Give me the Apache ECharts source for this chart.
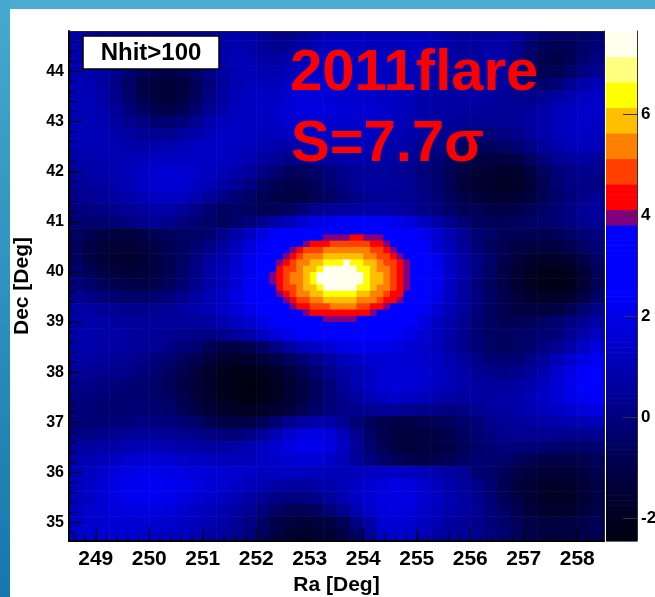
<!DOCTYPE html>
<html>
<head>
<meta charset="utf-8">
<script src="https://cdn.jsdelivr.net/npm/echarts@6/dist/echarts.min.js"></script>
<style>
  html, body { margin: 0; padding: 0; background: #ffffff; }
  #chart { width: 655px; height: 597px; }
</style>
</head>
<body>
<div id="chart"></div>
<script>
// ---- Significance map, 0.25 deg bins (Ra left->right, Dec top->bottom) ----
const raCoarse = [248.625, 248.875, 249.125, 249.375, 249.625, 249.875, 250.125, 250.375, 250.625, 250.875,
  251.125, 251.375, 251.625, 251.875, 252.125, 252.375, 252.625, 252.875, 253.125, 253.375,
  253.625, 253.875, 254.125, 254.375, 254.625, 254.875, 255.125, 255.375, 255.625, 255.875,
  256.125, 256.375, 256.625, 256.875, 257.125, 257.375, 257.625, 257.875, 258.125, 258.375];
const decCoarse = [44.75, 44.5, 44.25, 44.0, 43.75, 43.5, 43.25, 43.0, 42.75, 42.5, 42.25, 42.0, 41.75, 41.5,
  41.25, 41.0, 40.75, 40.5, 40.25, 40.0, 39.75, 39.5, 39.25, 39.0, 38.75, 38.5, 38.25, 38.0, 37.75, 37.5,
  37.25, 37.0, 36.75, 36.5, 36.25, 36.0, 35.75, 35.5, 35.25, 35.0, 34.75];
const sigCoarse = [
  [0.7,0.6,0.5,0.5,0.4,0.3,0.3,0.3,0.4,0.5,0.6,0.7,0.8,0.7,0.4,0.1,0.1,0.4,0.8,1.0,1.1,1.1,1.1,1.0,1.0,1.1,1.1,0.9,0.7,0.5,0.5,0.6,0.7,0.5,0.0,-0.3,-0.5,-0.5,-0.4,-0.3],
  [0.7,0.6,0.5,0.4,0.3,0.2,0.1,0.1,0.2,0.4,0.5,0.7,0.9,0.8,0.5,0.3,0.4,0.7,1.0,1.2,1.3,1.2,1.1,1.1,1.1,1.2,1.2,1.0,0.7,0.5,0.6,0.7,0.7,0.3,-0.3,-0.7,-0.8,-0.7,-0.4,-0.2],
  [0.8,0.7,0.5,0.3,0.1,-0.1,-0.3,-0.3,-0.1,0.2,0.5,0.8,1.0,0.9,0.7,0.6,0.8,1.0,1.2,1.3,1.4,1.3,1.2,1.2,1.2,1.2,1.1,0.9,0.6,0.5,0.6,0.8,0.7,0.2,-0.5,-0.9,-1.0,-0.8,-0.3,0.0],
  [0.9,0.8,0.6,0.2,-0.3,-0.7,-0.9,-1.0,-0.8,-0.4,0.1,0.6,0.9,1.0,0.9,0.9,1.1,1.3,1.4,1.4,1.4,1.3,1.2,1.2,1.1,1.1,1.0,0.8,0.6,0.5,0.6,0.7,0.6,0.1,-0.5,-0.8,-0.8,-0.5,0.0,0.3],
  [1.0,0.9,0.6,0.1,-0.5,-1.0,-1.3,-1.4,-1.2,-0.7,-0.1,0.5,0.9,1.1,1.1,1.1,1.3,1.5,1.6,1.5,1.4,1.3,1.2,1.2,1.1,1.0,0.9,0.7,0.6,0.6,0.7,0.7,0.5,0.2,-0.2,-0.4,-0.2,0.3,0.8,1.0],
  [1.0,1.0,0.7,0.2,-0.4,-1.0,-1.3,-1.4,-1.2,-0.7,0.0,0.6,1.0,1.2,1.2,1.3,1.5,1.7,1.7,1.6,1.5,1.4,1.4,1.3,1.2,1.0,0.8,0.7,0.6,0.7,0.7,0.6,0.4,0.3,0.2,0.3,0.6,0.9,1.2,1.3],
  [1.0,1.0,0.8,0.4,-0.1,-0.6,-0.9,-1.0,-0.8,-0.3,0.3,0.8,1.1,1.2,1.3,1.4,1.6,1.8,1.8,1.7,1.6,1.5,1.5,1.4,1.2,1.0,0.8,0.7,0.6,0.6,0.6,0.5,0.4,0.4,0.5,0.7,1.0,1.2,1.4,1.4],
  [1.0,1.0,0.9,0.6,0.3,0.0,-0.3,-0.3,-0.1,0.3,0.8,1.1,1.2,1.2,1.2,1.3,1.5,1.6,1.6,1.5,1.5,1.4,1.4,1.3,1.1,0.9,0.7,0.6,0.5,0.4,0.3,0.3,0.3,0.4,0.6,0.8,1.1,1.3,1.4,1.3],
  [1.0,1.0,1.0,0.8,0.6,0.4,0.3,0.3,0.5,0.8,1.1,1.3,1.3,1.2,1.1,1.1,1.2,1.3,1.3,1.3,1.3,1.3,1.2,1.1,1.0,0.8,0.6,0.4,0.2,0.0,-0.1,-0.1,0.0,0.2,0.5,0.8,1.0,1.2,1.3,1.2],
  [1.0,1.0,1.0,0.9,0.8,0.8,0.8,0.9,1.0,1.2,1.3,1.3,1.2,1.1,0.9,0.8,0.8,0.9,1.0,1.1,1.1,1.1,1.0,0.9,0.8,0.6,0.3,0.1,-0.2,-0.5,-0.6,-0.6,-0.5,-0.3,0.1,0.5,0.8,1.0,1.1,1.1],
  [0.8,0.8,0.9,0.9,1.0,1.1,1.2,1.3,1.3,1.3,1.3,1.2,1.1,0.9,0.6,0.3,0.1,0.2,0.4,0.6,0.7,0.8,0.8,0.7,0.6,0.4,0.1,-0.2,-0.6,-0.9,-1.1,-1.2,-1.2,-1.0,-0.6,-0.1,0.3,0.5,0.6,0.5],
  [0.6,0.7,0.8,0.9,1.1,1.3,1.5,1.6,1.5,1.4,1.2,1.0,0.8,0.5,0.1,-0.3,-0.6,-0.6,-0.4,-0.1,0.2,0.4,0.5,0.5,0.4,0.2,-0.1,-0.4,-0.8,-1.2,-1.5,-1.6,-1.7,-1.6,-1.2,-0.6,-0.2,0.1,0.2,0.2],
  [0.4,0.5,0.6,0.8,1.0,1.3,1.5,1.6,1.5,1.3,1.0,0.7,0.4,0.0,-0.5,-0.8,-1.0,-0.9,-0.6,-0.3,0.1,0.4,0.6,0.6,0.5,0.3,0.0,-0.3,-0.8,-1.3,-1.6,-1.8,-1.9,-1.8,-1.4,-0.8,-0.3,0.0,0.1,0.1],
  [0.2,0.3,0.4,0.6,0.8,1.0,1.2,1.3,1.2,0.9,0.5,0.1,-0.2,-0.5,-0.8,-1.0,-1.1,-1.0,-0.8,-0.5,-0.2,0.1,0.3,0.4,0.4,0.3,0.1,-0.2,-0.6,-1.0,-1.3,-1.5,-1.6,-1.5,-1.2,-0.8,-0.4,-0.1,0.2,0.4],
  [0.0,0.0,0.1,0.2,0.4,0.6,0.7,0.7,0.5,0.1,-0.3,-0.6,-0.5,-0.6,-0.8,-0.8,-0.6,-0.2,0.2,0.4,0.5,0.6,0.7,0.7,0.6,0.4,0.1,-0.1,-0.4,-0.7,-0.8,-1.0,-1.1,-1.0,-0.8,-0.5,-0.2,0.1,0.4,0.6],
  [-0.2,-0.3,-0.3,-0.2,0.0,0.2,0.3,0.2,0.0,-0.3,-0.5,-0.6,-0.4,-0.1,0.3,0.7,1.1,1.6,1.9,2.1,2.2,2.3,2.3,2.2,2.0,1.7,1.3,0.8,0.2,-0.3,-0.6,-0.7,-0.7,-0.6,-0.5,-0.4,-0.2,0.0,0.3,0.5],
  [-0.5,-0.8,-1.0,-1.2,-1.2,-1.0,-0.8,-0.6,-0.5,-0.5,-0.3,0.2,0.8,1.3,1.8,2.4,2.8,3.1,3.4,3.5,3.6,3.7,3.6,3.3,2.8,2.4,2.1,1.5,0.9,0.3,-0.2,-0.5,-0.7,-0.8,-0.8,-0.8,-0.7,-0.5,-0.2,0.0],
  [-0.6,-1.0,-1.3,-1.5,-1.5,-1.3,-1.0,-0.8,-0.6,-0.3,0.1,0.6,1.1,1.7,2.3,3.2,3.7,4.4,5.1,5.5,5.6,5.4,5.0,4.3,3.6,3.2,2.3,1.6,1.0,0.4,-0.2,-0.6,-0.9,-1.1,-1.2,-1.3,-1.2,-0.9,-0.5,-0.2],
  [-0.5,-1.0,-1.4,-1.6,-1.6,-1.4,-1.1,-0.8,-0.5,0.0,0.6,0.9,1.4,2.0,2.7,3.7,4.6,5.6,6.3,6.7,6.8,6.6,6.2,5.5,4.5,3.6,2.8,2.1,1.3,0.7,0.1,-0.4,-0.9,-1.3,-1.6,-1.8,-1.8,-1.5,-1.0,-0.5],
  [-0.3,-0.7,-1.1,-1.3,-1.4,-1.3,-1.1,-0.8,-0.4,0.1,0.7,1.0,1.5,2.1,2.9,4.1,5.3,6.2,6.9,7.4,7.5,7.3,6.8,6.1,5.1,3.9,3.0,2.2,1.4,0.7,0.0,-0.5,-1.0,-1.5,-1.9,-2.1,-2.2,-2.0,-1.4,-0.7],
  [-0.1,-0.4,-0.7,-0.9,-1.0,-1.0,-0.9,-0.6,-0.3,0.2,0.8,1.1,1.6,2.2,2.9,4.1,5.2,6.2,6.8,7.3,7.5,7.2,6.7,6.0,5.1,3.9,2.9,2.1,1.3,0.6,-0.1,-0.6,-1.1,-1.6,-2.0,-2.2,-2.3,-2.1,-1.5,-0.8],
  [0.3,0.1,-0.1,-0.3,-0.4,-0.4,-0.3,-0.1,0.2,0.6,1.0,1.3,1.8,2.3,2.9,3.6,4.5,5.4,6.1,6.5,6.6,6.4,6.0,5.3,4.3,3.5,2.7,2.0,1.2,0.6,0.0,-0.5,-0.9,-1.3,-1.6,-1.8,-1.8,-1.6,-1.0,-0.4],
  [0.7,0.6,0.4,0.3,0.2,0.2,0.3,0.4,0.6,0.8,0.9,1.3,1.6,2.0,2.4,3.1,3.6,4.2,4.8,5.2,5.3,5.1,4.6,4.1,3.5,3.1,2.2,1.6,1.0,0.5,-0.1,-0.6,-0.9,-1.1,-1.2,-1.2,-1.1,-0.8,-0.3,0.2],
  [0.8,0.8,0.7,0.6,0.5,0.5,0.5,0.5,0.5,0.5,0.6,0.9,1.2,1.5,1.9,2.3,2.7,3.0,3.2,3.3,3.3,3.2,3.0,2.8,2.5,2.2,1.8,1.3,0.8,0.3,-0.2,-0.6,-0.8,-0.8,-0.7,-0.5,-0.3,0.0,0.4,0.7],
  [0.8,0.8,0.8,0.7,0.6,0.5,0.4,0.3,0.2,0.1,0.1,0.2,0.5,0.8,1.3,1.7,2.0,2.3,2.5,2.6,2.7,2.7,2.6,2.5,2.2,1.9,1.6,1.2,0.7,0.2,-0.2,-0.5,-0.6,-0.5,-0.4,-0.3,-0.1,0.3,0.8,1.2],
  [0.8,0.8,0.7,0.6,0.5,0.4,0.3,0.1,-0.1,-0.3,-0.8,-1.0,-1.1,-0.9,-0.5,0.0,0.6,1.1,1.3,1.6,1.9,2.1,2.1,2.0,1.8,1.6,1.4,1.1,0.6,0.2,-0.2,-0.5,-0.6,-0.5,-0.3,0.0,0.3,0.8,1.3,1.7],
  [0.7,0.6,0.5,0.4,0.3,0.1,-0.1,-0.3,-0.6,-0.9,-1.3,-1.6,-1.8,-1.7,-1.4,-1.0,-0.6,-0.2,0.2,0.6,1.0,1.3,1.5,1.6,1.6,1.5,1.4,1.2,0.9,0.5,0.1,-0.2,-0.3,-0.2,0.1,0.5,1.0,1.5,1.9,2.2],
  [0.5,0.4,0.3,0.2,0.1,-0.1,-0.3,-0.6,-0.9,-1.3,-1.7,-2.0,-2.2,-2.2,-2.0,-1.7,-1.3,-0.8,-0.3,0.2,0.7,1.0,1.3,1.5,1.6,1.6,1.5,1.3,1.0,0.7,0.4,0.2,0.1,0.2,0.5,0.9,1.4,1.9,2.3,2.6],
  [0.2,0.1,0.0,-0.1,-0.2,-0.3,-0.5,-0.7,-1.0,-1.4,-1.8,-2.1,-2.3,-2.4,-2.3,-2.0,-1.6,-1.1,-0.6,-0.1,0.4,0.9,1.3,1.6,1.7,1.6,1.4,1.2,1.0,0.8,0.6,0.5,0.5,0.6,0.8,1.2,1.6,2.0,2.4,2.7],
  [0.0,-0.1,-0.2,-0.3,-0.3,-0.3,-0.4,-0.6,-0.9,-1.3,-1.7,-2.0,-2.2,-2.3,-2.2,-1.9,-1.5,-1.1,-0.6,-0.2,0.2,0.6,1.0,1.3,1.4,1.3,1.1,0.9,0.7,0.6,0.6,0.6,0.7,0.8,1.0,1.3,1.6,1.9,2.2,2.4],
  [-0.1,-0.2,-0.3,-0.3,-0.3,-0.2,-0.3,-0.4,-0.7,-1.0,-1.4,-1.7,-1.9,-1.9,-1.8,-1.5,-1.2,-0.8,-0.4,-0.1,0.1,0.2,0.3,0.4,0.4,0.3,0.2,0.1,0.0,0.1,0.3,0.5,0.6,0.7,0.9,1.1,1.3,1.5,1.7,1.8],
  [-0.1,-0.2,-0.2,-0.2,-0.1,0.0,0.0,-0.1,-0.3,-0.5,-0.8,-1.0,-1.1,-1.0,-0.7,-0.3,0.2,0.6,0.8,0.7,0.3,-0.2,-0.6,-0.9,-1.0,-1.0,-0.9,-0.8,-0.6,-0.4,-0.1,0.2,0.4,0.5,0.6,0.7,0.8,0.9,1.0,1.1],
  [0.1,0.1,0.2,0.3,0.4,0.5,0.5,0.4,0.3,0.2,0.0,-0.1,-0.1,0.1,0.5,1.0,1.5,1.8,1.9,1.7,1.1,0.3,-0.4,-0.9,-1.2,-1.3,-1.2,-1.1,-0.9,-0.6,-0.3,0.0,0.2,0.3,0.3,0.3,0.2,0.2,0.2,0.3],
  [0.5,0.6,0.7,0.8,0.9,1.0,1.0,0.9,0.8,0.7,0.6,0.6,0.7,0.9,1.2,1.5,1.8,2.0,2.0,1.8,1.2,0.4,-0.3,-0.8,-1.1,-1.3,-1.3,-1.2,-1.0,-0.7,-0.4,-0.2,-0.1,-0.1,-0.2,-0.3,-0.4,-0.4,-0.4,-0.3],
  [0.8,0.9,1.1,1.3,1.5,1.6,1.6,1.5,1.4,1.3,1.2,1.1,1.1,1.1,1.2,1.4,1.5,1.6,1.6,1.4,1.0,0.5,0.0,-0.4,-0.7,-0.9,-1.0,-0.9,-0.7,-0.5,-0.3,-0.3,-0.4,-0.6,-0.8,-1.0,-1.1,-1.0,-0.9,-0.7],
  [1.0,1.2,1.4,1.7,1.9,2.0,2.0,1.9,1.8,1.7,1.6,1.5,1.4,1.3,1.2,1.2,1.2,1.2,1.1,1.0,1.0,1.1,1.2,1.3,1.3,1.2,1.0,0.8,0.6,0.4,-0.2,-0.4,-0.7,-1.0,-1.2,-1.4,-1.5,-1.4,-1.2,-0.9],
  [1.1,1.3,1.6,1.9,2.1,2.2,2.2,2.1,2.0,1.8,1.6,1.5,1.3,1.1,0.9,0.7,0.6,0.6,0.7,0.8,1.0,1.3,1.5,1.7,1.8,1.7,1.4,1.1,0.8,0.5,0.1,-0.3,-0.8,-1.2,-1.5,-1.7,-1.8,-1.7,-1.4,-1.0],
  [1.1,1.3,1.6,1.8,2.0,2.1,2.1,2.0,1.8,1.6,1.4,1.2,1.0,0.7,0.4,0.1,0.0,0.0,0.2,0.5,0.9,1.3,1.6,1.8,1.9,1.8,1.5,1.2,0.9,0.6,0.2,-0.2,-0.7,-1.1,-1.5,-1.8,-1.9,-1.8,-1.5,-1.1],
  [1.2,1.4,1.6,1.7,1.8,1.8,1.8,1.7,1.5,1.3,1.1,0.9,0.6,0.3,-0.1,-0.5,-0.7,-0.8,-0.6,-0.2,0.3,0.9,1.4,1.7,1.8,1.7,1.4,1.1,0.8,0.6,0.3,-0.1,-0.5,-0.9,-1.3,-1.6,-1.7,-1.6,-1.3,-1.0],
  [1.3,1.4,1.5,1.6,1.6,1.6,1.5,1.4,1.3,1.1,0.9,0.7,0.4,0.0,-0.5,-1.0,-1.3,-1.4,-1.3,-1.2,-0.7,0.0,0.8,1.5,1.6,1.5,1.2,0.9,0.6,0.4,0.2,-0.1,-0.4,-0.7,-1.0,-1.2,-1.3,-1.2,-1.0,-0.8],
  [1.4,1.5,1.6,1.6,1.6,1.5,1.4,1.3,1.2,1.0,0.8,0.6,0.3,-0.1,-0.6,-1.1,-1.5,-1.6,-1.5,-1.4,-1.0,-0.4,0.5,1.3,1.5,1.4,1.1,0.8,0.5,0.4,0.3,0.0,-0.3,-0.6,-0.9,-1.1,-1.2,-1.1,-0.9,-0.8]
];

// ---- Source region, 0.125 deg bins ----
const raFine = [252.3125, 252.4375, 252.5625, 252.6875, 252.8125, 252.9375, 253.0625, 253.1875, 253.3125, 253.4375, 253.5625,
  253.6875, 253.8125, 253.9375, 254.0625, 254.1875, 254.3125, 254.4375, 254.5625, 254.6875, 254.8125, 254.9375];
const decFine = [40.8125, 40.6875, 40.5625, 40.4375, 40.3125, 40.1875, 40.0625, 39.9375, 39.8125, 39.6875, 39.5625,
  39.4375, 39.3125, 39.1875, 39.0625, 38.9375];
const sigFine = [
  [2.35,2.53,2.69,2.83,2.97,3.10,3.21,3.30,3.36,3.40,3.41,3.40,3.78,3.70,3.60,3.46,3.34,3.19,3.03,2.86,2.70,2.53],
  [2.65,2.82,3.02,3.19,3.35,3.51,3.66,3.79,3.88,3.94,3.96,3.94,4.38,4.24,4.07,4.00,3.85,3.53,3.34,3.15,2.96,2.76],
  [2.92,3.14,3.35,3.57,3.79,4.01,4.24,4.46,4.59,4.67,4.69,4.67,4.99,4.85,4.69,4.49,4.18,3.92,3.67,3.43,3.22,2.99],
  [3.19,3.42,3.71,3.99,4.32,4.63,4.88,5.10,5.24,5.32,5.35,5.33,5.51,5.39,5.21,4.98,4.70,4.39,4.02,3.73,3.45,3.21],
  [3.41,3.72,4.06,4.49,4.81,5.15,5.40,5.60,5.73,5.82,5.85,5.83,5.92,5.78,5.61,5.39,5.12,4.77,4.42,4.01,3.69,3.40],
  [3.63,3.98,4.44,4.84,5.22,5.53,5.78,6.02,6.23,6.38,6.44,7.20,6.40,6.19,5.93,5.69,5.42,5.10,4.71,4.30,3.89,3.56],
  [3.79,4.19,4.68,5.12,5.46,5.77,6.09,6.42,7.20,7.30,7.35,7.30,7.20,6.55,6.23,5.89,5.62,5.30,4.91,4.51,4.03,3.68],
  [3.87,4.32,4.79,5.24,5.60,5.90,6.29,7.20,7.30,7.50,7.60,7.53,7.30,7.20,6.40,6.03,5.72,5.39,5.02,4.60,4.11,3.74],
  [3.87,4.32,4.79,5.23,5.59,5.90,6.28,7.20,7.25,7.46,7.57,7.50,7.25,7.20,6.39,6.02,5.71,5.39,5.01,4.59,4.10,3.74],
  [3.78,4.16,4.66,5.10,5.44,5.75,6.06,6.39,7.20,7.30,7.30,7.25,7.20,6.45,6.15,5.84,5.58,5.25,4.85,4.46,4.00,3.66],
  [3.60,3.95,4.39,4.79,5.18,5.48,5.73,5.95,6.16,6.30,6.35,6.31,6.19,6.00,5.81,5.58,5.30,4.97,4.60,4.14,3.81,3.49],
  [3.38,3.68,4.00,4.40,4.74,5.08,5.33,5.52,5.66,5.74,5.77,5.75,5.68,5.56,5.38,5.16,4.86,4.56,4.15,3.84,3.55,3.29],
  [3.14,3.37,3.64,3.91,4.20,4.54,4.76,4.99,5.13,5.21,5.24,5.21,5.15,5.03,4.82,4.61,4.33,4.02,3.76,3.51,3.28,3.05],
  [2.86,3.07,3.28,3.48,3.70,3.90,4.21,4.43,4.45,4.55,4.57,4.54,4.47,4.32,4.13,3.96,3.77,3.58,3.37,3.18,2.99,2.79],
  [2.59,2.76,2.94,3.11,3.27,3.41,3.55,3.67,3.85,3.90,3.92,3.90,3.85,3.69,3.59,3.45,3.32,3.18,3.02,2.85,2.70,2.52],
  [2.26,2.45,2.61,2.75,2.87,2.99,3.10,3.18,3.25,3.29,3.30,3.29,3.26,3.20,3.13,3.03,2.92,2.80,2.67,2.53,2.37,2.20]
];

// ---- Axis labels ----
const raTicks = [249, 250, 251, 252, 253, 254, 255, 256, 257, 258];
const decTicks = [35, 36, 37, 38, 39, 40, 41, 42, 43, 44];
const zTicks = [-2, 0, 2, 4, 6];

// ---- Axis ranges ----
const raMin = 248.5, raMax = 258.5, decMin = 34.63, decMax = 44.81;

// ---- Colour scale (100 contour levels) ----
const zMin = -2.46, zMax = 7.66, nLevels = 100;
const zStep = (zMax - zMin) / nLevels;
const blueStops = [[-2.46, 14], [-2, 32], [-1, 72], [0, 128], [1, 180], [2, 232], [2.5, 255]];
const bandColors = [[95, '#fffff0'], [90, '#ffff80'], [85, '#ffff00'], [80, '#ffbf00'],
  [75, '#ff8000'], [70, '#ff4000'], [65, '#ff0000'], [62, '#800080']];

function blueAt(v) {
  if (v <= blueStops[0][0]) return blueStops[0][1];
  for (let i = 1; i < blueStops.length; i++) {
    const a = blueStops[i - 1], b = blueStops[i];
    if (v <= b[0]) return a[1] + (b[1] - a[1]) * (v - a[0]) / (b[0] - a[0]);
  }
  return 255;
}
const levelColors = [];
for (let i = 0; i < nLevels; i++) {
  const band = bandColors.find(b => i >= b[0]);
  levelColors.push(band ? band[1] : 'rgb(0,0,' + Math.round(blueAt(zMin + (i + 0.5) * zStep)) + ')');
}
function colorOf(v) {
  let i = Math.floor((v - zMin) / zStep);
  i = Math.max(0, Math.min(nLevels - 1, i));
  return levelColors[i];
}

// ---- Build series data ----
const coarseCells = [];
decCoarse.forEach((dec, r) => raCoarse.forEach((ra, c) => coarseCells.push([ra, dec, sigCoarse[r][c]])));
const fineCells = [];
decFine.forEach((dec, r) => raFine.forEach((ra, c) => fineCells.push([ra, dec, sigFine[r][c]])));
const scaleLevels = [];
for (let i = 0; i < nLevels; i++) scaleLevels.push([0.5, zMin + i * zStep, zMin + (i + 1) * zStep, i]);

// minor tick positions every 0.2 deg
function minorValues(lo, hi, step) {
  const out = [];
  for (let v = lo; v <= hi + 1e-9; v += step) out.push(Math.round(v * 10) / 10);
  return out;
}
const raMinorTicks = minorValues(248.6, 258.4, 0.2).map(v => [v, decMin]);
const decMinorTicks = minorValues(34.8, 44.8, 0.2).map(v => [raMin, v]);

function cellItem(half) {
  return function (params, api) {
    const ra = api.value(0), dec = api.value(1);
    const a = api.coord([ra - half, dec + half]);
    const b = api.coord([ra + half, dec - half]);
    const cs = params.coordSys;
    const shape = echarts.graphic.clipRectByRect(
      { x: a[0], y: a[1], width: b[0] - a[0] + 0.6, height: b[1] - a[1] + 0.6 },
      { x: cs.x, y: cs.y, width: cs.width, height: cs.height });
    if (!shape) return null;
    return { type: 'rect', shape: shape, style: { fill: colorOf(api.value(2)) } };
  };
}
function minorTickItem(dx, dy) {
  return function (params, api) {
    const p = api.coord([api.value(0), api.value(1)]);
    return { type: 'line', shape: { x1: p[0], y1: p[1], x2: p[0] + dx, y2: p[1] + dy },
      style: { stroke: '#000000', lineWidth: 1 } };
  };
}

const FONT = '"Liberation Sans", Arial, Helvetica, sans-serif';
const black = '#000000';

const chart = echarts.init(document.getElementById('chart'), null, { renderer: 'canvas' });
chart.setOption({
  animation: false,
  backgroundColor: '#ffffff',
  grid: [
    { left: 69, top: 31, width: 535, height: 510, containLabel: false, outerBoundsMode: 'none' },
    { left: 606, top: 31, width: 31, height: 510, containLabel: false, outerBoundsMode: 'none' }
  ],
  xAxis: [
    { gridIndex: 0, type: 'value', min: raMin, max: raMax, position: 'bottom', z: 10,
      axisLine: { show: true, onZero: false, lineStyle: { color: black, width: 2 } },
      axisTick: { show: true, inside: true, length: 14, customValues: raTicks, lineStyle: { color: black, width: 1 } },
      axisLabel: { show: true, customValues: raTicks, margin: 8, color: black, fontFamily: FONT, fontWeight: 'bold', fontSize: 21 },
      splitLine: { show: false },
      name: 'Ra [Deg]', nameLocation: 'middle', nameGap: 32,
      nameTextStyle: { color: black, fontFamily: FONT, fontWeight: 'bold', fontSize: 21 } },
    { gridIndex: 0, type: 'value', min: raMin, max: raMax, position: 'top', z: 10,
      axisLine: { show: true, onZero: false, lineStyle: { color: '#222', width: 1 } },
      axisTick: { show: false }, axisLabel: { show: false }, splitLine: { show: false } },
    { gridIndex: 1, type: 'value', min: 0, max: 1, show: false }
  ],
  yAxis: [
    { gridIndex: 0, type: 'value', min: decMin, max: decMax, position: 'left', z: 10,
      axisLine: { show: true, onZero: false, lineStyle: { color: black, width: 2 } },
      axisTick: { show: true, inside: true, length: 14, customValues: decTicks, lineStyle: { color: black, width: 1 } },
      axisLabel: { show: true, customValues: decTicks, margin: 5, color: black, fontFamily: FONT, fontWeight: 'bold', fontSize: 16 },
      splitLine: { show: false },
      name: 'Dec [Deg]', nameLocation: 'middle', nameRotate: 90, nameGap: 36,
      nameTextStyle: { color: black, fontFamily: FONT, fontWeight: 'bold', fontSize: 21 } },
    { gridIndex: 0, type: 'value', min: decMin, max: decMax, position: 'right', z: 10,
      axisLine: { show: true, onZero: false, lineStyle: { color: '#222', width: 1 } },
      axisTick: { show: false }, axisLabel: { show: false }, splitLine: { show: false } },
    { gridIndex: 1, type: 'value', min: zMin, max: zMax, position: 'right', z: 10,
      axisLine: { show: true, onZero: false, lineStyle: { color: '#333', width: 1 } },
      axisTick: { show: true, inside: true, length: 14, customValues: zTicks, lineStyle: { color: '#333', width: 1 } },
      axisLabel: { show: true, customValues: zTicks, margin: 4, color: black, fontFamily: FONT, fontWeight: 'bold', fontSize: 17 },
      splitLine: { show: false } }
  ],
  series: [
    { type: 'custom', name: 'significance', xAxisIndex: 0, yAxisIndex: 0, silent: true, z: 2, progressive: 0,
      data: coarseCells, renderItem: cellItem(0.125) },
    { type: 'custom', name: 'significance-core', xAxisIndex: 0, yAxisIndex: 0, silent: true, z: 3, progressive: 0,
      data: fineCells, renderItem: cellItem(0.0625) },
    { type: 'custom', name: 'ra-minor-ticks', xAxisIndex: 0, yAxisIndex: 0, silent: true, z: 5, progressive: 0,
      data: raMinorTicks, renderItem: minorTickItem(0, -7) },
    { type: 'custom', name: 'dec-minor-ticks', xAxisIndex: 0, yAxisIndex: 0, silent: true, z: 5, progressive: 0,
      data: decMinorTicks, renderItem: minorTickItem(7, 0) },
    { type: 'custom', name: 'scale', xAxisIndex: 2, yAxisIndex: 2, silent: true, z: 2, progressive: 0,
      data: scaleLevels,
      renderItem: function (params, api) {
        const a = api.coord([0, api.value(2)]);
        const b = api.coord([1, api.value(1)]);
        return { type: 'rect', shape: { x: a[0], y: a[1], width: b[0] - a[0], height: b[1] - a[1] + 0.6 },
          style: { fill: levelColors[api.value(3)] } };
      } }
  ],
  graphic: [
    { type: 'rect', z: 1, silent: true, shape: { x: 0, y: 0, width: 655, height: 9 }, style: { fill: '#49acd0' } },
    { type: 'rect', z: 1, silent: true, shape: { x: 0, y: 0, width: 10, height: 597 },
      style: { fill: new echarts.graphic.LinearGradient(0, 0, 0, 1, [
        { offset: 0, color: '#45a9cf' }, { offset: 1, color: '#1677ad' }]) } },
    { type: 'rect', z: 100, silent: true, shape: { x: 83, y: 36, width: 136, height: 33 },
      style: { fill: '#ffffff', stroke: '#000000', lineWidth: 1.5 } },
    { type: 'text', z: 101, silent: true, x: 151, y: 53,
      style: { text: 'Nhit>100', fill: '#000000', font: 'bold 24px ' + FONT, align: 'center', verticalAlign: 'middle' } },
    { type: 'text', z: 101, silent: true, x: 290, y: 45,
      style: { text: '2011flare', fill: '#ff0000', font: 'bold 58px ' + FONT, align: 'left', verticalAlign: 'top' } },
    { type: 'text', z: 101, silent: true, x: 291, y: 116,
      style: { text: 'S=7.7σ', fill: '#ff0000', font: 'bold 58px ' + FONT, align: 'left', verticalAlign: 'top' } }
  ]
});
</script>
</body>
</html>
